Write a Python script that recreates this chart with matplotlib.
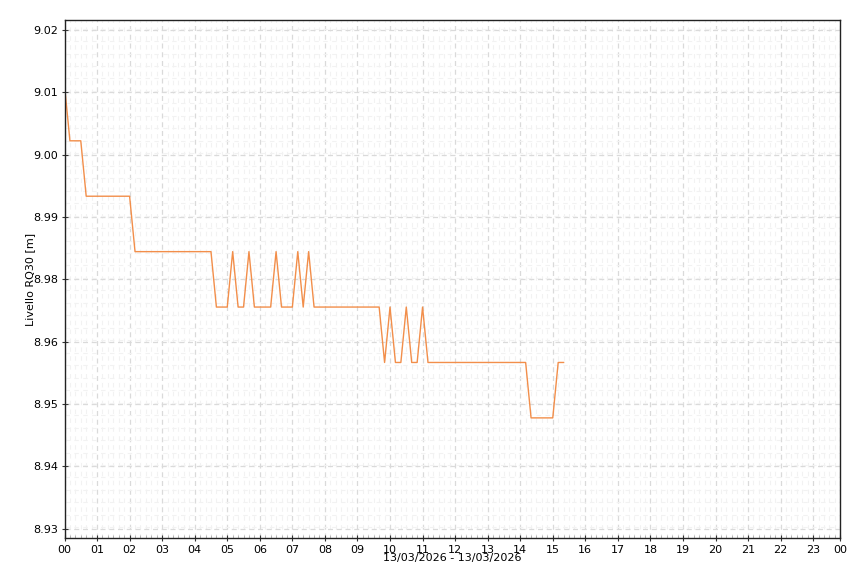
import numpy as np
import pandas as pd
import matplotlib
matplotlib.use('Agg')
import matplotlib.pyplot as plt
from matplotlib.ticker import FixedLocator, MultipleLocator

# samples of 13/03/2026 (10 min logging, only the change points)
times = ['00:00', '00:10', '00:30', '00:40', '02:00', '02:10', '04:30', '04:40',
         '05:00', '05:10', '05:20', '05:30', '05:40', '05:50', '06:20', '06:30',
         '06:40', '07:00', '07:10', '07:20', '07:30', '07:40', '09:40', '09:50',
         '10:00', '10:10', '10:20', '10:30', '10:40', '10:50', '11:00', '11:10',
         '14:10', '14:20', '15:00', '15:10', '15:20']
values = [9.01, 9.00, 9.00, 8.99, 8.99, 8.98, 8.98, 8.97,
          8.97, 8.98, 8.97, 8.97, 8.98, 8.97, 8.97, 8.98,
          8.97, 8.97, 8.98, 8.97, 8.98, 8.97, 8.97, 8.96,
          8.97, 8.96, 8.96, 8.97, 8.96, 8.96, 8.97, 8.96,
          8.96, 8.95, 8.95, 8.96, 8.96]

y_ticks = [8.93, 8.94125, 8.9525, 8.96375, 8.975, 8.98625, 8.9975, 9.00875, 9.02]
y_labels = ['8.93', '8.94', '8.95', '8.96', '8.98', '8.99', '9.00', '9.01', '9.02']
x_ticks = list(range(24)) + [23 + 50 / 60]
x_labels = ['%02d' % h for h in range(24)] + ['00']

hours = pd.to_timedelta([t + ':00' for t in times]) / pd.Timedelta(hours=1)

plt.rcParams['font.family'] = 'DejaVu Sans'
fig = plt.figure(figsize=(8.6, 5.73), dpi=100)
ax = fig.add_axes([64.5 / 860, 1 - 538.3 / 573, 775.8 / 860, 518.3 / 573])

ax.plot(hours, values, color='#f28e4a', lw=1.0)

ax.set_xlim(0, 23 + 50 / 60)
ax.set_ylim(8.92827, 9.0218)

ax.xaxis.set_major_locator(FixedLocator(x_ticks))
ax.set_xticklabels(x_labels)
ax.xaxis.set_minor_locator(MultipleLocator(1 / 6))
ax.yaxis.set_major_locator(FixedLocator(y_ticks))
ax.set_yticklabels(y_labels)
ax.yaxis.set_minor_locator(MultipleLocator(0.01125 / 5))

ax.tick_params(axis='both', which='major', direction='inout', length=5, width=0.8,
               labelsize=8, pad=2, color='#333333')
ax.tick_params(axis='x', which='minor', direction='in', length=2, width=0.6, color='#aaaaaa')
ax.tick_params(axis='y', which='minor', length=0)

ax.grid(True, which='major', color='#dadada', ls=(0, (4, 3)), lw=0.9)
ax.grid(True, which='minor', color='#f2f2f2', ls=(0, (4, 4)), lw=0.8)
ax.set_axisbelow(True)

for s in ax.spines.values():
    s.set_color('#222222')
    s.set_linewidth(1.0)

ax.set_ylabel('Livello RQ30 [m]', fontsize=8, labelpad=-1)
ax.set_xlabel('13/03/2026 - 13/03/2026', fontsize=8, labelpad=-1)

fig.savefig('out.png', dpi=100)
